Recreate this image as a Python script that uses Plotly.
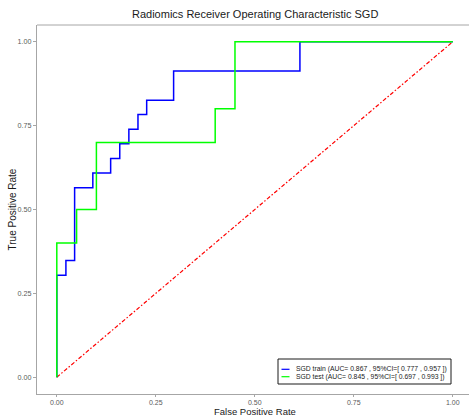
import plotly.graph_objects as go

# ---- data ----
train_fpr = [0, 0, 0.023, 0.045, 0.091, 0.136, 0.159, 0.182, 0.205, 0.227, 0.295, 0.614, 1]
train_tpr = [0, 0.304, 0.348, 0.565, 0.609, 0.652, 0.696, 0.739, 0.783, 0.826, 0.913, 1, 1]
test_fpr = [0, 0, 0.05, 0.10, 0.40, 0.45, 1]
test_tpr = [0, 0.40, 0.50, 0.70, 0.80, 1.00, 1]
diag_x = [0, 1]
diag_y = [0, 1]
series_names = ["SGD train (AUC= 0.867 , 95%CI=[ 0.777 , 0.957 ])",
                "SGD test (AUC= 0.845 , 95%CI=[ 0.697 , 0.993 ])"]
series_colors = ["#0000FF", "#00FF00"]
tick_vals = [0, 0.25, 0.5, 0.75, 1.0]
tick_text = ["0.00", "0.25", "0.50", "0.75", "1.00"]
title_text = "Radiomics Receiver Operating Characteristic SGD"
x_title = "False Positive Rate"
y_title = "True Positive Rate"

W, H = 469, 419
ML, MT, MB, MR = 37, 25, 25, 0

fig = go.Figure()
fig.add_trace(go.Scatter(x=diag_x, y=diag_y, mode="lines",
                         line=dict(color="#FF0000", width=1.2, dash="4px,2px,1.5px,2px"),
                         showlegend=False, hoverinfo="skip"))
fig.add_trace(go.Scatter(x=train_fpr, y=train_tpr, mode="lines", line_shape="hv",
                         line=dict(color=series_colors[0], width=1.5), name=series_names[0],
                         showlegend=False))
fig.add_trace(go.Scatter(x=test_fpr, y=test_tpr, mode="lines", line_shape="hv",
                         line=dict(color=series_colors[1], width=1.5), name=series_names[1],
                         showlegend=False))

axis_common = dict(showgrid=False, zeroline=False, showline=True, linecolor="#a6a6a6",
                   linewidth=1, ticks="outside", ticklen=3, tickcolor="#a6a6a6",
                   tickvals=tick_vals, ticktext=tick_text,
                   tickfont=dict(family="Liberation Sans, Arial", size=7.2, color="#5a5a5a"))

fig.update_layout(
    width=W, height=H, margin=dict(l=ML, r=MR, t=MT, b=MB, pad=0),
    paper_bgcolor="white", plot_bgcolor="white",
    xaxis=dict(range=[-0.05, 1.041], **axis_common),
    yaxis=dict(range=[-0.05, 1.05], **axis_common),
    showlegend=False,
)
fig.update_xaxes(ticklen=2, tickfont_size=7)

# top panel border
fig.add_shape(type="line", xref="paper", yref="paper", x0=0, x1=1, y0=1, y1=1,
              line=dict(color="#a6a6a6", width=1))

# title and axis titles
panel_w = W - ML - MR
panel_h = H - MT - MB
cx = (255 - ML) / panel_w
fig.add_annotation(text=title_text, xref="paper", yref="paper", x=cx, y=1, yanchor="bottom",
                   yshift=3, showarrow=False,
                   font=dict(family="Liberation Sans, Arial", size=11, color="#1a1a1a"))
fig.add_annotation(text=x_title, xref="paper", yref="paper", x=cx, y=0, yanchor="bottom",
                   yshift=-24.5, showarrow=False,
                   font=dict(family="Liberation Sans, Arial", size=9.5, color="#1a1a1a"))
fig.add_annotation(text=y_title, xref="paper", yref="paper", x=0, y=0.5, xanchor="center",
                   xshift=-25, textangle=-90, showarrow=False,
                   font=dict(family="Liberation Sans, Arial", size=10, color="#1a1a1a"))

# legend box (manual, compact like ggplot)
def px_x(p):
    return (p - ML) / panel_w
def px_y(p):
    return (H - MB - p) / panel_h

fig.add_shape(type="rect", xref="paper", yref="paper",
              x0=px_x(278), x1=px_x(451), y0=px_y(384), y1=px_y(359),
              line=dict(color="#1a1a1a", width=1), fillcolor="white")
for i, (name, col) in enumerate(zip(series_names, series_colors)):
    yy = 369.3 + i * 7.4
    fig.add_shape(type="line", xref="paper", yref="paper",
                  x0=px_x(281.5), x1=px_x(289.5), y0=px_y(yy), y1=px_y(yy),
                  line=dict(color=col, width=1.2))
    fig.add_annotation(text=name, xref="paper", yref="paper", x=px_x(294), y=px_y(yy),
                       xanchor="left", yanchor="middle", showarrow=False,
                       font=dict(family="Liberation Sans, Arial", size=6.8, color="#1a1a1a"))

fig.write_html("out.html")
